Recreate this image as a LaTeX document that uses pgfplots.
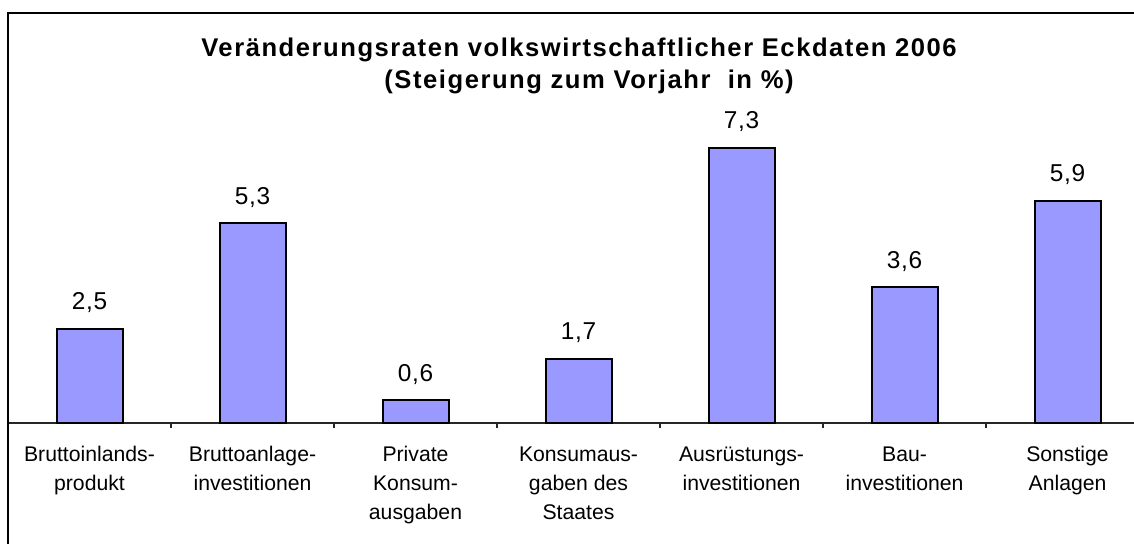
\documentclass[border=0pt]{standalone}
\usepackage{pgfplots}
\pgfplotsset{compat=1.18}
\usepackage{fontspec}
\setmainfont{Liberation Sans}
\definecolor{barfill}{RGB}{153,153,255}
\begin{document}
\begin{tikzpicture}
\begin{axis}[
  at={(4pt,-211.5pt)}, anchor=south west,
  scale only axis, width=563pt, height=205pt,
  xmin=-0.5, xmax=6.408, ymin=0, ymax=10.875,
  axis x line=bottom, axis y line=none,
  x axis line style={-, black!85, line width=0.6pt},
  xtick={0,1,2,3,4,5,6},
  xticklabels={Bruttoinlands-\\produkt, Bruttoanlage-\\investitionen, Private\\Konsum-\\ausgaben, Konsumaus-\\gaben des\\Staates, Ausrüstungs-\\investitionen, Bau-\\investitionen, Sonstige\\Anlagen},
  xticklabel style={align=center, anchor=north, inner sep=0pt, font=\fontsize{10.6}{14.5}\selectfont},
  xticklabel shift=11.5pt,
  major tick length=0pt,
  minor xtick={0.5,1.5,2.5,3.5,4.5,5.5},
  minor tick length=2.5pt,
  tick align=outside,
  minor tick style={black!85, line width=0.6pt},
  ybar, bar width=33pt,
  clip=false,
  nodes near coords={\pgfmathprintnumber[use comma,fixed,fixed zerofill,precision=1,assume math mode=true]{\pgfplotspointmeta}},
  every node near coord/.append style={font=\fontsize{12.2}{14}\selectfont\addfontfeatures{LetterSpace=3}, anchor=base, yshift=9.5pt},
]
\addplot[fill=barfill, draw=black, line width=1pt] coordinates {(0,2.5) (1,5.3) (2,0.6) (3,1.7) (4,7.3) (5,3.6) (6,5.9)};
\end{axis}
\draw[line width=1pt] (4pt,-400pt) |- (700pt,-6.5pt);
\node[font=\bfseries\fontsize{12.8}{14}\selectfont\addfontfeatures{LetterSpace=6}, anchor=base] at (289.5pt,-28pt) {Veränderungsraten volkswirtschaftlicher Eckdaten 2006};
\node[font=\bfseries\fontsize{12.8}{14}\selectfont\addfontfeatures{LetterSpace=6}, anchor=base] at (294.5pt,-44pt) {(Steigerung zum Vorjahr\ \ in \%)};
\pgfresetboundingbox
\useasboundingbox (0,0) rectangle (567pt,-271.5pt);
\end{tikzpicture}
\end{document}
